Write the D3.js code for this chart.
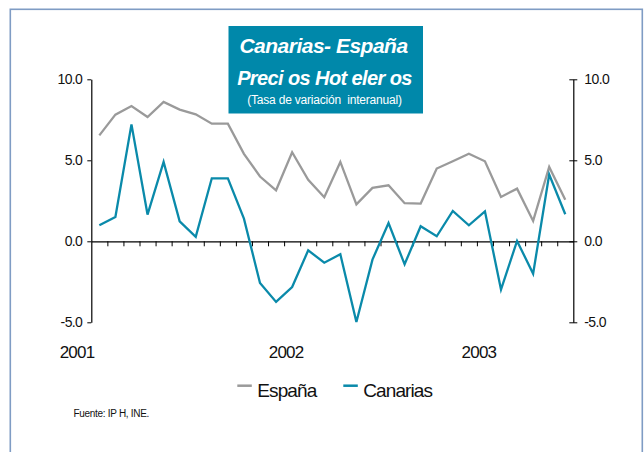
<!DOCTYPE html>
<html>
<head>
<meta charset="utf-8">
<script src="https://cdn.jsdelivr.net/npm/d3@7"></script>
<style>
  html, body { margin: 0; padding: 0; background: #fff; }
  svg { display: block; font-family: "Liberation Sans", Arial, sans-serif; }
</style>
</head>
<body>
<svg id="chart" width="644" height="452"></svg>
<script>
// ---- data ----
const months = [
  "2001-01","2001-02","2001-03","2001-04","2001-05","2001-06","2001-07","2001-08","2001-09","2001-10","2001-11","2001-12",
  "2002-01","2002-02","2002-03","2002-04","2002-05","2002-06","2002-07","2002-08","2002-09","2002-10","2002-11","2002-12",
  "2003-01","2003-02","2003-03","2003-04","2003-05","2003-06"
];
const espana = [6.54, 7.82, 8.35, 7.67, 8.6, 8.13, 7.84, 7.26, 7.26, 5.4, 4.0, 3.15,
                5.5, 3.8, 2.72, 4.9, 2.28, 3.3, 3.46, 2.35, 2.33, 4.49, 4.94, 5.41,
                4.94, 2.74, 3.25, 1.26, 4.59, 2.57];
const canarias = [0.99, 1.5, 7.22, 1.65, 4.9, 1.23, 0.27, 3.89, 3.89, 1.4, -2.57, -3.74,
                  -2.82, -0.56, -1.32, -0.8, -4.98, -1.13, 1.13, -1.42, 0.93, 0.31, 1.87, 0.99,
                  1.85, -2.98, 0.02, -2.0, 4.12, 1.67];
const yTicks = [-5, 0, 5, 10];
const yearLabels = ["2001", "2002", "2003"];
const seriesNames = ["España", "Canarias"];
const titleLines = ["Canarias- España", "Preci os Hot eler os", "(Tasa de variación  interanual)"];
const sourceText = "Fuente: IP H, INE.";

// ---- styles ----
const colEsp = "#9a9a9a";
const colCan = "#0a8aaa";
const colBox = "#0088aa";

const svg = d3.select("#chart");

// outer frame
svg.append("rect")
  .attr("x", 10.3).attr("y", 9.3).attr("width", 632).attr("height", 460)
  .attr("fill", "none").attr("stroke", "#7f9cc4").attr("stroke-width", 1.6);

// scales
const x = d3.scaleLinear().domain([-0.5, months.length - 0.5]).range([91.3, 573.3]);
const y = d3.scaleLinear().domain([-5, 10]).range([322.3, 79.3]);
const idx = d3.range(months.length);

// zero line with month separators
const boundaries = d3.range(months.length - 1).map(i => i + 0.5);
svg.append("g")
  .attr("transform", `translate(0,${y(0)})`)
  .call(d3.axisBottom(x).tickValues(boundaries).tickSize(5).tickSizeOuter(0).tickFormat(""))
  .call(g => g.selectAll("line").attr("stroke", "#000").attr("stroke-width", 1))
  .call(g => g.select(".domain").attr("stroke", "#000").attr("stroke-width", 1.2));

const fmt = d => d.toFixed(1);

// left axis
svg.append("g")
  .attr("transform", `translate(${x(-0.5)},0)`)
  .call(d3.axisLeft(y).tickValues(yTicks).tickSize(4).tickSizeOuter(0).tickPadding(5).tickFormat(fmt))
  .call(g => g.select(".domain").attr("stroke", "#000").attr("stroke-width", 1.2))
  .call(g => g.selectAll("line").attr("stroke", "#000"))
  .call(g => g.selectAll("text").attr("fill", "#111").style("font-size", "14px").style("letter-spacing", "-0.6px"));

// right axis
svg.append("g")
  .attr("transform", `translate(${x(months.length - 0.5)},0)`)
  .call(d3.axisRight(y).tickValues(yTicks).tickSize(4).tickSizeOuter(0).tickPadding(7).tickFormat(fmt))
  .call(g => g.select(".domain").attr("stroke", "#000").attr("stroke-width", 1.2))
  .call(g => g.selectAll("line").attr("x1", -4).attr("stroke", "#000"))
  .call(g => g.selectAll("text").attr("fill", "#111").style("font-size", "14px").style("letter-spacing", "-0.6px"));

// lines
const line = d3.line().x(i => x(i));
svg.append("path")
  .attr("d", line.y(i => y(espana[i]))(idx))
  .attr("fill", "none").attr("stroke", colEsp).attr("stroke-width", 2.3).attr("stroke-linejoin", "miter");
svg.append("path")
  .attr("d", line.y(i => y(canarias[i]))(idx))
  .attr("fill", "none").attr("stroke", colCan).attr("stroke-width", 2.3).attr("stroke-linejoin", "miter");

// year labels
yearLabels.forEach((yr, k) => {
  const i = months.indexOf(yr + "-01");
  svg.append("text")
    .attr("x", k === 0 ? x(i) - 5 : x(i) - 6)
    .attr("y", 358)
    .attr("text-anchor", k === 0 ? "end" : "middle")
    .attr("fill", "#111")
    .style("font-size", "17px").style("letter-spacing", "-0.8px")
    .text(yr);
});

// title box
svg.append("rect")
  .attr("x", 228.5).attr("y", 26).attr("width", 194.5).attr("height", 87.5)
  .attr("fill", colBox);
const tcx = 323.5;
svg.append("text").attr("x", tcx).attr("y", 53).attr("text-anchor", "middle")
  .attr("fill", "#fff").style("font-size", "21px").style("font-weight", "bold").style("font-style", "italic")
  .style("letter-spacing", "-0.5px").text(titleLines[0]);
svg.append("text").attr("x", tcx + 1).attr("y", 85).attr("text-anchor", "middle")
  .attr("fill", "#fff").style("font-size", "20px").style("font-weight", "bold").style("font-style", "italic")
  .style("letter-spacing", "-0.6px").text(titleLines[1]);
svg.append("text").attr("x", tcx + 1).attr("y", 103.5).attr("text-anchor", "middle")
  .attr("fill", "#fff").style("font-size", "12px").style("letter-spacing", "-0.2px").style("white-space", "pre")
  .text(titleLines[2]);

// legend
const legend = [
  { name: seriesNames[0], color: colEsp, x0: 237.3 },
  { name: seriesNames[1], color: colCan, x0: 343.3 }
];
legend.forEach(l => {
  svg.append("line").attr("x1", l.x0).attr("x2", l.x0 + 14.5).attr("y1", 385.7).attr("y2", 385.7)
    .attr("stroke", l.color).attr("stroke-width", 2.5);
  svg.append("text").attr("x", l.x0 + 20).attr("y", 396.5)
    .attr("fill", "#111").style("font-size", "19px").style("letter-spacing", "-0.9px").text(l.name);
});

// source
svg.append("text").attr("x", 73.5).attr("y", 416.5)
  .attr("fill", "#111").style("font-size", "10px").style("letter-spacing", "-0.3px").text(sourceText);
</script>
</body>
</html>
